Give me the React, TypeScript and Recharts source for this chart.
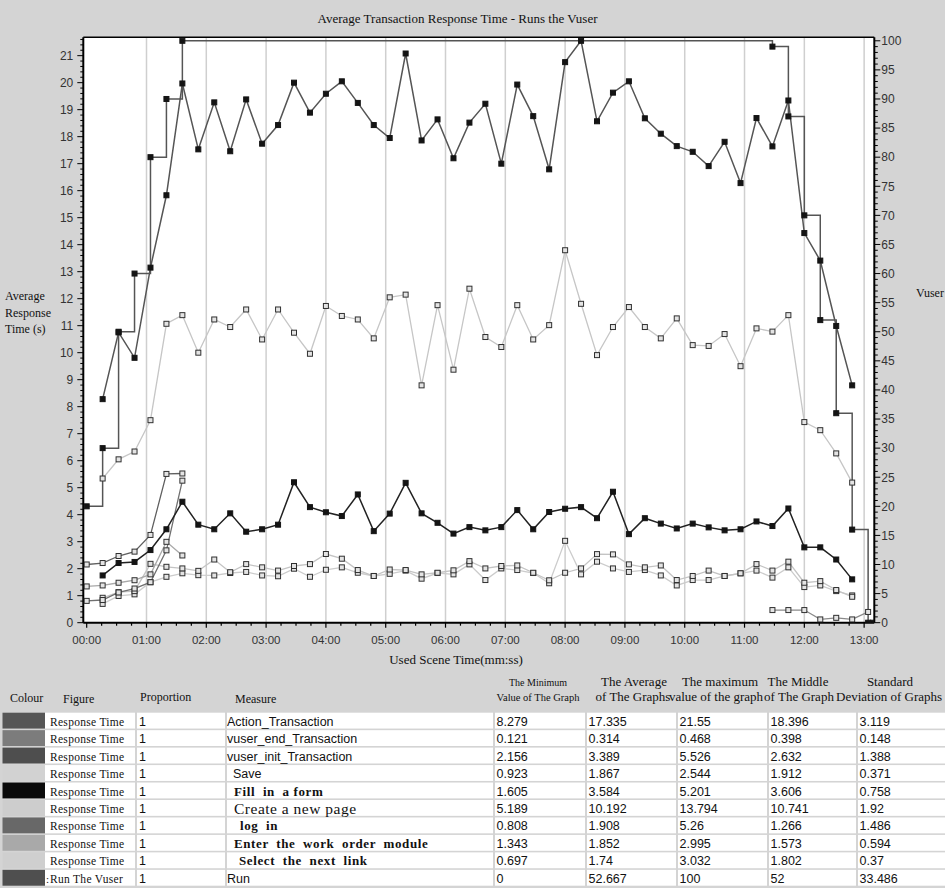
import React from 'react';
import { LineChart, Line, XAxis, YAxis, ReferenceLine, CartesianGrid } from 'recharts';

// ---------- data ----------
const sampleSeconds = [
  0, 16, 32, 48, 64, 80, 96, 112, 128, 144,
  160, 176, 192, 208, 224, 240, 256, 272, 288, 304,
  320, 336, 352, 368, 384, 400, 416, 432, 448, 464,
  480, 496, 512, 528, 544, 560, 576, 592, 608, 624,
  640, 656, 672, 688, 704, 720, 736, 752, 768, 784,
];

// Action_Transaction, samples 1..48
const actionValues = [
  8.279, 10.75, 9.81, 13.15, 15.83, 19.97, 17.53, 19.27, 17.46, 19.38,
  17.74, 18.43, 20.0, 18.89, 19.59, 20.05, 19.25, 18.43, 17.95, 21.08,
  17.86, 18.64, 17.2, 18.52, 19.22, 17.0, 19.93, 18.76, 16.79, 20.76,
  21.55, 18.57, 19.63, 20.05, 18.68, 18.11, 17.65, 17.44, 16.91, 17.81,
  16.28, 18.69, 17.64, 19.34, 14.43, 13.41, 10.99, 8.79,
];
// Create a new page, samples 1..48
const createValues = [
  5.34, 6.05, 6.34, 7.5, 11.07, 11.39, 10.0, 11.23, 10.95, 11.6,
  10.49, 11.6, 10.74, 9.96, 11.73, 11.36, 11.23, 10.53, 12.05, 12.15,
  8.79, 11.76, 9.37, 12.37, 10.58, 10.21, 11.76, 10.49, 11.02, 13.794,
  11.81, 9.91, 10.95, 11.69, 10.95, 10.53, 11.27, 10.28, 10.25, 10.69,
  9.5, 10.9, 10.78, 11.39, 7.43, 7.13, 6.27, 5.189,
];
// Fill in a form, samples 1..48
const fillValues = [
  1.75, 2.21, 2.25, 2.69, 3.46, 4.48, 3.63, 3.46, 4.05, 3.37,
  3.46, 3.63, 5.201, 4.28, 4.09, 3.95, 4.75, 3.39, 4.04, 5.18,
  4.05, 3.7, 3.3, 3.54, 3.42, 3.54, 4.17, 3.46, 4.1, 4.22,
  4.28, 3.87, 4.85, 3.28, 3.87, 3.67, 3.49, 3.67, 3.53, 3.42,
  3.46, 3.75, 3.58, 4.23, 2.79, 2.79, 2.34, 1.605,
];
// Save, samples 1..48
const saveValues = [
  0.923, 1.13, 1.17, 2.18, 2.07, 2.01, 1.92, 2.34, 1.87, 2.17,
  2.05, 1.93, 2.1, 2.17, 2.544, 2.37, 1.95, 1.73, 1.97, 1.95,
  1.79, 1.85, 1.94, 2.28, 2.01, 2.1, 2.12, 1.85, 1.57, 1.85,
  2.01, 2.54, 2.53, 2.16, 2.05, 2.12, 1.58, 1.73, 1.93, 1.73,
  1.83, 2.17, 1.93, 2.26, 1.48, 1.54, 1.21, 0.96,
];
// Select the next link, samples 1..48
const selectValues = [
  0.697, 0.99, 1.05, 1.5, 1.7, 1.83, 1.76, 1.75, 1.84, 1.88,
  1.75, 1.72, 2.0, 1.7, 1.96, 2.05, 1.85, 1.73, 1.81, 1.93,
  1.63, 1.84, 1.79, 2.16, 1.58, 2.01, 1.95, 1.84, 1.46, 3.032,
  1.79, 2.26, 2.01, 1.88, 1.95, 1.75, 1.38, 1.58, 1.58, 1.73,
  1.83, 1.93, 1.67, 2.05, 1.32, 1.38, 1.17, 1.01,
];
// samples 0..6
const initValues = [2.156, 2.21, 2.47, 2.632, 3.25, 5.51, 5.526];
const loginValues = [0.808, 0.84, 1.12, 1.266, 1.5, 2.68, 5.26];
const enterValues = [1.343, 1.38, 1.48, 1.573, 1.79, 2.995, 2.49];
// vuser_end, samples 43..49
const endValues = [0.468, 0.468, 0.468, 0.121, 0.18, 0.121, 0.398];
// Running Vusers (only recorded changes)
const runSeconds = [0, 16, 32, 48, 64, 80, 96, 688, 704, 720, 736, 752, 768, 784, 789];
const runValues = [20, 30, 50, 60, 80, 90, 100, 99, 87, 70, 52, 36, 16, 0, 0];

// axis ticks
const xMajorTicks = [0, 60, 120, 180, 240, 300, 360, 420, 480, 540, 600, 660, 720, 780];
const xTickLabels = ['00:00', '01:00', '02:00', '03:00', '04:00', '05:00', '06:00', '07:00', '08:00', '09:00', '10:00', '11:00', '12:00', '13:00'];
const leftMajorTicks = [0, 1, 2, 3, 4, 5, 6, 7, 8, 9, 10, 11, 12, 13, 14, 15, 16, 17, 18, 19, 20, 21];
const rightMajorTicks = [0, 5, 10, 15, 20, 25, 30, 35, 40, 45, 50, 55, 60, 65, 70, 75, 80, 85, 90, 95, 100];

// table
const tableFigures = ['Response Time', 'Response Time', 'Response Time', 'Response Time', 'Response Time', 'Response Time', 'Response Time', 'Response Time', 'Response Time', 'Run The Vuser'];
const tableProportions = ['1', '1', '1', '1', '1', '1', '1', '1', '1', '1'];
const tableMeasures = ['Action_Transaction', 'vuser_end_Transaction', 'vuser_init_Transaction', 'Save', 'Fill  in  a form', 'Create a new page', 'log  in', 'Enter  the  work  order  module', 'Select  the  next  link', 'Run'];
const tableMin = ['8.279', '0.121', '2.156', '0.923', '1.605', '5.189', '0.808', '1.343', '0.697', '0'];
const tableAvg = ['17.335', '0.314', '3.389', '1.867', '3.584', '10.192', '1.908', '1.852', '1.74', '52.667'];
const tableMax = ['21.55', '0.468', '5.526', '2.544', '5.201', '13.794', '5.26', '2.995', '3.032', '100'];
const tableMid = ['18.396', '0.398', '2.632', '1.912', '3.606', '10.741', '1.266', '1.573', '1.802', '52'];
const tableStd = ['3.119', '0.148', '1.388', '0.371', '0.758', '1.92', '1.486', '0.594', '0.37', '33.486'];

// ---------- helpers ----------
const toSeries = (start: number, values: number[]) =>
  values.map((v, i) => ({ t: sampleSeconds[start + i], v }));

const actionData = toSeries(1, actionValues);
const createData = toSeries(1, createValues);
const fillData = toSeries(1, fillValues);
const saveData = toSeries(1, saveValues);
const selectData = toSeries(1, selectValues);
const initData = toSeries(0, initValues);
const loginData = toSeries(0, loginValues);
const enterData = toSeries(0, enterValues);
const endData = toSeries(43, endValues);
const runData = runSeconds.map((t, i) => ({ t, v: runValues[i] }));

const xMinorTicks = Array.from({ length: 53 }, (_, i) => i * 15);
const leftTicks = Array.from({ length: 109 }, (_, i) => Math.round(i * 2) / 10);
const rightTicks = Array.from({ length: 101 }, (_, i) => i);

const LEFT_MAX = 21.68;
const RIGHT_MAX = 100.6;
const X_DOMAIN: [number, number] = [-3.4, 790.2];

const SANS = '"Liberation Sans", Arial, sans-serif';
const SERIF = '"Liberation Serif", "Times New Roman", serif';

const makeDot = (fill: string, stroke: string) => (props: any) => {
  const { cx, cy, index } = props;
  if (cx == null || cy == null || isNaN(cx) || isNaN(cy)) return <g key={`e${index}`} />;
  return (
    <rect key={`d${index}`} x={cx - 2.5} y={cy - 2.5} width={5} height={5} fill={fill} stroke={stroke} strokeWidth={1} />
  );
};
const darkDot = makeDot('#141414', '#141414');
const hollowDot = makeDot('#e4e4e4', '#303030');

const isMajor = (v: number, step: number) => Math.abs(v / step - Math.round(v / step)) < 1e-6;

const XTick = (props: any) => {
  const { x, y, payload } = props;
  const v = payload.value;
  const idx = xMajorTicks.indexOf(v);
  const major = idx >= 0;
  return (
    <g>
      <line x1={x} x2={x} y1={y} y2={y + (major ? 5 : 3)} stroke="#000" strokeWidth={1.2} />
      {major && (
        <text x={x} y={y + 21} textAnchor="middle" fontSize={11.5} fontFamily={SANS} fill="#333">
          {xTickLabels[idx]}
        </text>
      )}
    </g>
  );
};

const LeftTick = (props: any) => {
  const { x, y, payload } = props;
  const v = payload.value;
  const major = isMajor(v, 1) && leftMajorTicks.indexOf(Math.round(v)) >= 0;
  return (
    <g>
      <line x1={x - (major ? 6 : 3)} x2={x} y1={y} y2={y} stroke="#000" strokeWidth={1} />
      {major && (
        <text x={x - 10} y={y + 4.3} textAnchor="end" fontSize={12} fontFamily={SANS} fill="#333">
          {Math.round(v)}
        </text>
      )}
    </g>
  );
};

const RightTick = (props: any) => {
  const { x, y, payload } = props;
  const v = payload.value;
  const major = rightMajorTicks.indexOf(v) >= 0;
  return (
    <g>
      <line x1={x} x2={x + (major ? 6 : 3.5)} y1={y} y2={y} stroke="#000" strokeWidth={1} />
      {major && (
        <text x={x + 7} y={y + 4.3} textAnchor="start" fontSize={12} fontFamily={SANS} fill="#333">
          {v}
        </text>
      )}
    </g>
  );
};

// ---------- table ----------
const ROW_TOP = 712.7;
const ROW_H = 17.46;
const swatchColors = ['#565656', '#7c7c7c', '#4e4e4e', '#d2d2d2', '#0a0a0a', '#cdcdcd', '#686868', '#a9a9a9', '#cfcfcf', '#4f4f4f'];
const cols = [
  { x: 2.5, w: 42.5 },
  { x: 45, w: 90 },
  { x: 137, w: 88 },
  { x: 227, w: 266 },
  { x: 495, w: 90 },
  { x: 587, w: 89 },
  { x: 678, w: 89 },
  { x: 769, w: 87 },
  { x: 858, w: 87 },
];
type MStyle = { family: string; size: number; weight?: number; ls?: number; dx: number };
const measureStyles: MStyle[] = [
  { family: SANS, size: 12.5, dx: 0 },
  { family: SANS, size: 12.5, dx: 0 },
  { family: SANS, size: 12.5, dx: 0 },
  { family: SANS, size: 12.5, dx: 6 },
  { family: SERIF, size: 13, weight: 700, ls: 0.6, dx: 7 },
  { family: SERIF, size: 15.5, ls: 0.5, dx: 7 },
  { family: SERIF, size: 13, weight: 700, ls: 0.6, dx: 13 },
  { family: SERIF, size: 13, weight: 700, ls: 0.6, dx: 7 },
  { family: SERIF, size: 13, weight: 700, ls: 0.6, dx: 12 },
  { family: SANS, size: 12.5, dx: 0 },
];

const Table = () => {
  const numCols = [tableMin, tableAvg, tableMax, tableMid, tableStd];
  return (
    <g>
      {tableMeasures.map((m, i) => {
        const top = ROW_TOP + i * ROW_H;
        const base = top + 13;
        const ms = measureStyles[i];
        return (
          <g key={m}>
            <rect x={cols[0].x} y={top} width={cols[0].w} height={ROW_H - 1.6} fill={swatchColors[i]} />
            {cols.slice(1).map((c, j) => (
              <rect key={j} x={c.x} y={top} width={c.w} height={ROW_H - 1.6} fill="#fff" />
            ))}
            {i === 9 && (
              <text x={46} y={base} fontSize={11} fontFamily={SERIF} fill="#111">:</text>
            )}
            <text x={cols[1].x + 5} y={base} fontSize={11.5} fontFamily={SERIF} letterSpacing={0.3} fill="#111">
              {tableFigures[i]}
            </text>
            <text x={cols[2].x + 2} y={base} fontSize={12.5} fontFamily={SANS} fill="#111">
              {tableProportions[i]}
            </text>
            <text
              x={cols[3].x + ms.dx}
              y={base + (ms.size > 14 ? 1 : 0)}
              fontSize={ms.size}
              fontFamily={ms.family}
              fontWeight={ms.weight || 400}
              letterSpacing={ms.ls || 0}
              fill="#111"
              style={{ whiteSpace: 'pre' }}
            >
              {m}
            </text>
            {numCols.map((arr, j) => (
              <text key={j} x={cols[4 + j].x + 1.5} y={base} fontSize={12.5} fontFamily={SANS} fill="#111">
                {arr[i]}
              </text>
            ))}
          </g>
        );
      })}
      {/* header */}
      <text x={10} y={701.5} fontSize={12} fontFamily={SERIF} fill="#111">Colour</text>
      <text x={63} y={703} fontSize={12} fontFamily={SERIF} fill="#111">Figure</text>
      <text x={140} y={700.5} fontSize={12} fontFamily={SERIF} fill="#111">Proportion</text>
      <text x={235} y={703} fontSize={12} fontFamily={SERIF} fill="#111">Measure</text>
      <text x={538} y={685.5} fontSize={10} fontFamily={SERIF} textAnchor="middle" fill="#111">The Minimum</text>
      <text x={538} y={700.5} fontSize={10.5} fontFamily={SERIF} textAnchor="middle" fill="#111">Value of The Graph</text>
      <text x={634} y={686} fontSize={13} fontFamily={SERIF} textAnchor="middle" fill="#111">The Average</text>
      <text x={633} y={701} fontSize={13} fontFamily={SERIF} textAnchor="middle" fill="#111">of The Graphs</text>
      <text x={720} y={686} fontSize={13} fontFamily={SERIF} textAnchor="middle" fill="#111">The maximum</text>
      <text x={716} y={701} fontSize={13} fontFamily={SERIF} textAnchor="middle" fill="#111">value of the graph</text>
      <text x={798} y={686} fontSize={13} fontFamily={SERIF} textAnchor="middle" fill="#111">The Middle</text>
      <text x={799} y={701} fontSize={13} fontFamily={SERIF} textAnchor="middle" fill="#111">of The Graph</text>
      <text x={890} y={686} fontSize={13} fontFamily={SERIF} textAnchor="middle" fill="#111">Standard</text>
      <text x={836} y={701} fontSize={13} fontFamily={SERIF} fill="#111">Deviation of Graphs</text>
    </g>
  );
};

export default function App() {
  const gridMinutes = xMajorTicks.slice(1);
  return (
    <div style={{ position: 'absolute', left: 0, top: 0, width: 945, height: 888, background: '#d4d4d4', overflow: 'hidden' }}>
      <div style={{ position: 'absolute', left: 0, top: 0 }}>
        <LineChart width={945} height={672} margin={{ top: 37.3, right: 0, bottom: 19.3, left: 0 }}>
          <CartesianGrid yAxisId="left" fill="#ffffff" horizontal={false} vertical={false} />
          <XAxis
            type="number"
            dataKey="t"
            domain={X_DOMAIN}
            allowDataOverflow
            ticks={xMinorTicks}
            interval={0}
            tick={<XTick />}
            tickLine={false}
            tickSize={0}
            tickMargin={0}
            height={30}
            axisLine={{ stroke: '#000', strokeWidth: 2 }}
          />
          <YAxis
            yAxisId="left"
            type="number"
            domain={[0, LEFT_MAX]}
            allowDataOverflow
            ticks={leftTicks}
            interval={0}
            tick={<LeftTick />}
            tickLine={false}
            tickSize={0}
            tickMargin={0}
            width={83.3}
            axisLine={{ stroke: '#000', strokeWidth: 2 }}
          />
          <YAxis
            yAxisId="right"
            orientation="right"
            type="number"
            domain={[0, RIGHT_MAX]}
            allowDataOverflow
            ticks={rightTicks}
            interval={0}
            tick={<RightTick />}
            tickLine={false}
            tickSize={0}
            tickMargin={0}
            width={70.7}
            axisLine={{ stroke: '#000', strokeWidth: 2 }}
          />
          {gridMinutes.map((m) => (
            <ReferenceLine key={m} x={m} yAxisId="left" stroke="#cfcfcf" strokeWidth={1.5} />
          ))}
          <ReferenceLine y={LEFT_MAX} yAxisId="left" stroke="#000" strokeWidth={1.5} />

          <Line yAxisId="left" data={createData} dataKey="v" type="linear" stroke="#c6c6c6" strokeWidth={1.3} dot={hollowDot} isAnimationActive={false} />
          <Line yAxisId="left" data={selectData} dataKey="v" type="linear" stroke="#cccccc" strokeWidth={1.3} dot={hollowDot} isAnimationActive={false} />
          <Line yAxisId="left" data={saveData} dataKey="v" type="linear" stroke="#c4c4c4" strokeWidth={1.3} dot={hollowDot} isAnimationActive={false} />
          <Line yAxisId="left" data={enterData} dataKey="v" type="linear" stroke="#a9a9a9" strokeWidth={1.3} dot={hollowDot} isAnimationActive={false} />
          <Line yAxisId="left" data={loginData} dataKey="v" type="linear" stroke="#707070" strokeWidth={1.3} dot={hollowDot} isAnimationActive={false} />
          <Line yAxisId="left" data={endData} dataKey="v" type="linear" stroke="#8a8a8a" strokeWidth={1.3} dot={hollowDot} isAnimationActive={false} />
          <Line yAxisId="left" data={initData} dataKey="v" type="linear" stroke="#606060" strokeWidth={1.3} dot={hollowDot} isAnimationActive={false} />
          <Line yAxisId="left" data={fillData} dataKey="v" type="linear" stroke="#222222" strokeWidth={1.5} dot={darkDot} isAnimationActive={false} />
          <Line yAxisId="left" data={actionData} dataKey="v" type="linear" stroke="#555555" strokeWidth={1.5} dot={darkDot} isAnimationActive={false} />
          <Line yAxisId="right" data={runData} dataKey="v" type="stepAfter" stroke="#555555" strokeWidth={1.5} dot={darkDot} isAnimationActive={false} />
        </LineChart>
      </div>
      <svg width={945} height={888} style={{ position: 'absolute', left: 0, top: 0, pointerEvents: 'none' }}>
        <text x={457.5} y={23} textAnchor="middle" fontSize={13} fontFamily={SERIF} fill="#111">
          Average Transaction Response Time - Runs the Vuser
        </text>
        <text x={5} y={300} fontSize={12} fontFamily={SERIF} fill="#111">Average</text>
        <text x={5} y={316.5} fontSize={12} fontFamily={SERIF} fill="#111">Response</text>
        <text x={5} y={333} fontSize={12} fontFamily={SERIF} fill="#111">Time (s)</text>
        <text x={916} y={297} fontSize={12} fontFamily={SERIF} fill="#111">Vuser</text>
        <text x={456} y={664} textAnchor="middle" fontSize={13} fontFamily={SERIF} fill="#111">Used Scene Time(mm:ss)</text>
        <Table />
      </svg>
    </div>
  );
}
